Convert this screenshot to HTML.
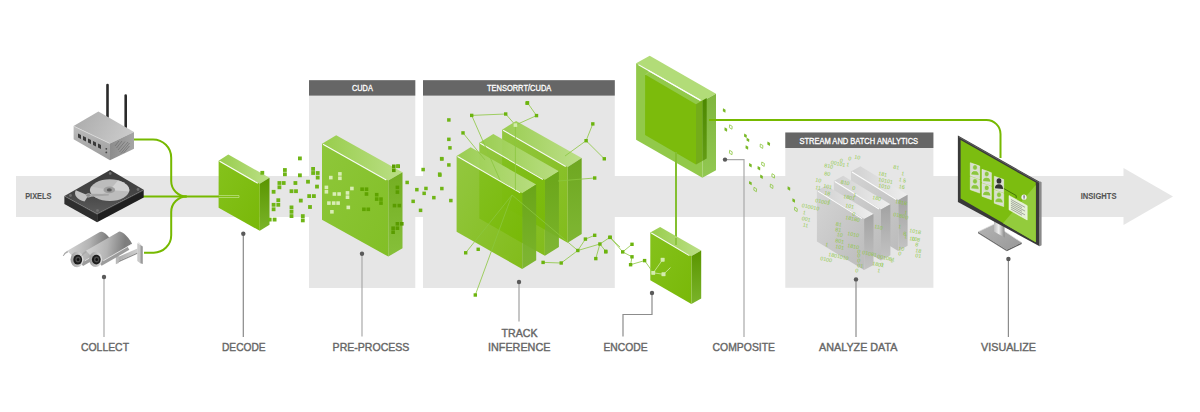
<!DOCTYPE html><html><head><meta charset="utf-8"><style>html,body{margin:0;padding:0;background:#fff;}svg{display:block;}</style></head><body><svg width="1200" height="412" viewBox="0 0 1200 412">
<defs>
<linearGradient id="gFront" x1="0" y1="0" x2="1" y2="1"><stop offset="0" stop-color="#85c21c"/><stop offset="1" stop-color="#79b808"/></linearGradient>
<linearGradient id="gTop" x1="0" y1="0" x2="1" y2="0"><stop offset="0" stop-color="#98cd4c"/><stop offset="1" stop-color="#bbdf86"/></linearGradient>
<linearGradient id="gSide" x1="0" y1="0" x2="0" y2="1"><stop offset="0" stop-color="#5a9500"/><stop offset="1" stop-color="#7ab42a"/></linearGradient>
<linearGradient id="gSide2" x1="0" y1="0" x2="0" y2="1"><stop offset="0" stop-color="#74ae22"/><stop offset="1" stop-color="#86c03a"/></linearGradient>
<linearGradient id="gFront2" x1="0" y1="0" x2="1" y2="1"><stop offset="0" stop-color="#8ec73a"/><stop offset="1" stop-color="#82bf26"/></linearGradient>
<linearGradient id="gFrontT" x1="0" y1="0" x2="1" y2="1"><stop offset="0" stop-color="#84c222" stop-opacity="0.88"/><stop offset="1" stop-color="#76b700" stop-opacity="0.92"/></linearGradient>
<linearGradient id="sFront" x1="0" y1="0" x2="1" y2="1"><stop offset="0" stop-color="#d4d4d4"/><stop offset="1" stop-color="#bcbcbc"/></linearGradient>
<linearGradient id="sTop" x1="0" y1="0" x2="1" y2="0"><stop offset="0" stop-color="#d0d0d0"/><stop offset="1" stop-color="#eeeeee"/></linearGradient>
<linearGradient id="sSide" x1="0" y1="0" x2="0" y2="1"><stop offset="0" stop-color="#a2a2a2"/><stop offset="1" stop-color="#c4c4c4"/></linearGradient>
<linearGradient id="rTop" x1="0" y1="0" x2="1" y2="0.3"><stop offset="0" stop-color="#a9a9a9"/><stop offset="1" stop-color="#c9c9c9"/></linearGradient>
<linearGradient id="rFront" x1="0" y1="0" x2="0" y2="1"><stop offset="0" stop-color="#bdbdbd"/><stop offset="1" stop-color="#9a9a9a"/></linearGradient>
<linearGradient id="rSide" x1="0" y1="0" x2="1" y2="0"><stop offset="0" stop-color="#8c8c8c"/><stop offset="1" stop-color="#a5a5a5"/></linearGradient>
<linearGradient id="hTop" x1="0" y1="0" x2="0" y2="1"><stop offset="0" stop-color="#3c3c3c"/><stop offset="0.5" stop-color="#444"/><stop offset="1" stop-color="#5c5c5c"/></linearGradient>
<linearGradient id="hPl" x1="0" y1="0" x2="1" y2="1"><stop offset="0" stop-color="#d0d0d0"/><stop offset="1" stop-color="#a8a8a8"/></linearGradient>
<linearGradient id="cBody" x1="0" y1="0" x2="0" y2="1"><stop offset="0" stop-color="#8a8a8a"/><stop offset="0.5" stop-color="#bdbdbd"/><stop offset="1" stop-color="#d6d6d6"/></linearGradient>
<linearGradient id="cHood" x1="0" y1="0" x2="1" y2="0.3"><stop offset="0" stop-color="#d4d4d4"/><stop offset="0.55" stop-color="#b4b4b4"/><stop offset="1" stop-color="#7e7e7e"/></linearGradient>
<linearGradient id="mBase" x1="0" y1="0" x2="1" y2="1"><stop offset="0" stop-color="#b4b4b4"/><stop offset="1" stop-color="#989898"/></linearGradient>
<linearGradient id="mNeck" x1="0" y1="0" x2="1" y2="0"><stop offset="0" stop-color="#bdbdbd"/><stop offset="0.45" stop-color="#eeeeee"/><stop offset="1" stop-color="#8a8a8a"/></linearGradient>
<linearGradient id="cFace" x1="0" y1="0" x2="1" y2="0"><stop offset="0" stop-color="#9a9a9a"/><stop offset="1" stop-color="#e0e0e0"/></linearGradient>
<linearGradient id="gCompSide" x1="0" y1="0" x2="0" y2="1"><stop offset="0" stop-color="#80b63e"/><stop offset="1" stop-color="#92c852"/></linearGradient>
<linearGradient id="gCompStrip" x1="0" y1="0" x2="0" y2="1"><stop offset="0" stop-color="#4c8800"/><stop offset="1" stop-color="#639c14"/></linearGradient>
<linearGradient id="gSide3" x1="0" y1="0" x2="0" y2="1"><stop offset="0" stop-color="#6aa51a"/><stop offset="1" stop-color="#7bb52c"/></linearGradient>
<linearGradient id="bArm" x1="0" y1="0" x2="1" y2="0"><stop offset="0" stop-color="#a8a8a8"/><stop offset="1" stop-color="#d0d0d0"/></linearGradient>
</defs>
<rect width="1200" height="412" fill="#fff"/>
<rect x="16" y="176" width="1108" height="41" fill="#e6e6e6"/>
<polygon points="1123.5,168 1173,196.5 1123.5,225" fill="#e6e6e6"/>
<rect x="309" y="80" width="106.3" height="208" fill="#e6e6e6"/>
<rect x="423" y="80" width="191.8" height="208" fill="#e6e6e6"/>
<rect x="785.3" y="132.5" width="148.1" height="155.3" fill="#e6e6e6"/>
<rect x="309" y="80.2" width="106.3" height="15.4" fill="#666666"/>
<rect x="423" y="80.2" width="191.8" height="15.4" fill="#666666"/>
<rect x="785.3" y="132.5" width="148.1" height="15.5" fill="#666666"/>
<text x="352.0" y="91.1" font-family="Liberation Sans, sans-serif" font-size="8.4" font-weight="normal" fill="#fff" stroke="#fff" stroke-width="0.3" textLength="20.8" lengthAdjust="spacingAndGlyphs">CUDA</text>
<text x="486.9" y="90.9" font-family="Liberation Sans, sans-serif" font-size="8.2" font-weight="normal" fill="#fff" stroke="#fff" stroke-width="0.3" textLength="64.4" lengthAdjust="spacingAndGlyphs">TENSORRT/CUDA</text>
<text x="799.4" y="143.7" font-family="Liberation Sans, sans-serif" font-size="8.7" font-weight="normal" fill="#fff" stroke="#fff" stroke-width="0.3" textLength="118.7" lengthAdjust="spacingAndGlyphs">STREAM AND BATCH ANALYTICS</text>
<text x="25.2" y="199.0" font-family="Liberation Sans, sans-serif" font-size="8.6" font-weight="bold" fill="#555555" stroke="#555555" stroke-width="0.1" textLength="26.3" lengthAdjust="spacingAndGlyphs">PIXELS</text>
<text x="1080.7" y="199.3" font-family="Liberation Sans, sans-serif" font-size="8.6" font-weight="bold" fill="#555555" stroke="#555555" stroke-width="0.1" textLength="35.8" lengthAdjust="spacingAndGlyphs">INSIGHTS</text>
<text x="81.0" y="350.7" font-family="Liberation Sans, sans-serif" font-size="11.6" fill="#666666" stroke="#666666" stroke-width="0.42" textLength="48.0" lengthAdjust="spacingAndGlyphs">COLLECT</text>
<text x="222.0" y="350.7" font-family="Liberation Sans, sans-serif" font-size="11.6" fill="#666666" stroke="#666666" stroke-width="0.42" textLength="43.6" lengthAdjust="spacingAndGlyphs">DECODE</text>
<text x="332.6" y="350.7" font-family="Liberation Sans, sans-serif" font-size="11.6" fill="#666666" stroke="#666666" stroke-width="0.42" textLength="76.8" lengthAdjust="spacingAndGlyphs">PRE-PROCESS</text>
<text x="501.5" y="337.0" font-family="Liberation Sans, sans-serif" font-size="11.6" fill="#666666" stroke="#666666" stroke-width="0.42" textLength="36.0" lengthAdjust="spacingAndGlyphs">TRACK</text>
<text x="488.0" y="351.0" font-family="Liberation Sans, sans-serif" font-size="11.6" fill="#666666" stroke="#666666" stroke-width="0.42" textLength="62.4" lengthAdjust="spacingAndGlyphs">INFERENCE</text>
<text x="603.5" y="350.7" font-family="Liberation Sans, sans-serif" font-size="11.6" fill="#666666" stroke="#666666" stroke-width="0.42" textLength="44.1" lengthAdjust="spacingAndGlyphs">ENCODE</text>
<text x="712.6" y="350.7" font-family="Liberation Sans, sans-serif" font-size="11.6" fill="#666666" stroke="#666666" stroke-width="0.42" textLength="62.4" lengthAdjust="spacingAndGlyphs">COMPOSITE</text>
<text x="819.1" y="350.7" font-family="Liberation Sans, sans-serif" font-size="11.6" fill="#666666" stroke="#666666" stroke-width="0.42" textLength="78.3" lengthAdjust="spacingAndGlyphs">ANALYZE DATA</text>
<text x="981.1" y="350.7" font-family="Liberation Sans, sans-serif" font-size="11.6" fill="#666666" stroke="#666666" stroke-width="0.42" textLength="54.9" lengthAdjust="spacingAndGlyphs">VISUALIZE</text>
<polyline points="104.0,277.0 104.0,337.0" fill="none" stroke="#a9a9a9" stroke-width="1.2"/><circle cx="104.0" cy="277.0" r="2.2" fill="#5a5a5a"/>
<polyline points="243.3,233.7 243.3,337.0" fill="none" stroke="#888" stroke-width="1.2"/><circle cx="243.3" cy="233.7" r="2.2" fill="#5a5a5a"/>
<polyline points="362.0,253.7 362.0,336.5" fill="none" stroke="#a9a9a9" stroke-width="1.2"/><circle cx="362.0" cy="253.7" r="2.2" fill="#5a5a5a"/>
<polyline points="519.0,282.0 519.0,321.4" fill="none" stroke="#a0a0a0" stroke-width="1.2"/><circle cx="519.0" cy="282.0" r="2.2" fill="#5a5a5a"/>
<polyline points="652.0,293.0 652.0,314.5 623.0,314.5 623.0,336.5" fill="none" stroke="#8c8c8c" stroke-width="1.2"/><circle cx="652.0" cy="293.0" r="2.2" fill="#5a5a5a"/>
<polyline points="725.0,159.6 744.0,159.6 744.0,337.0" fill="none" stroke="#a9a9a9" stroke-width="1.2"/><circle cx="725.0" cy="159.6" r="2.2" fill="#5a5a5a"/>
<polyline points="856.0,279.4 856.0,337.0" fill="none" stroke="#8c8c8c" stroke-width="1.2"/><circle cx="856.0" cy="279.4" r="2.2" fill="#5a5a5a"/>
<polyline points="1008.4,259.0 1008.4,337.0" fill="none" stroke="#8c8c8c" stroke-width="1.2"/><circle cx="1008.4" cy="259.0" r="2.2" fill="#5a5a5a"/>
<path d="M133.5,139.5 H153 A18.2,18.2 0 0 1 171.2,157.7 V181 A15.5,15.5 0 0 0 186.7,196.5" fill="none" stroke="#76b900" stroke-width="2"/>
<path d="M144,252.7 H153.7 A17.5,17.5 0 0 0 171.2,235.2 V212 A15.5,15.5 0 0 1 186.7,196.5" fill="none" stroke="#76b900" stroke-width="2"/>
<path d="M143,196.5 H220" fill="none" stroke="#76b900" stroke-width="2"/>
<path d="M709,120 H986.5 A14,14 0 0 1 1000.5,134 V158" fill="none" stroke="#76b900" stroke-width="2"/>
<g opacity="1.0"><polygon points="218.6,160.7 228.3,154.6 269.5,177.7 259.8,183.8" fill="url(#gTop)"/><polygon points="259.8,183.8 269.5,177.7 269.5,224.7 259.8,230.8" fill="url(#gSide)"/><polygon points="218.6,160.7 259.8,183.8 259.8,230.8 218.6,207.7" fill="url(#gFront)"/><line x1="219.6" y1="161.2" x2="257.8" y2="183.3" stroke="#fff" stroke-width="1.1" opacity="0.95"/></g>
<path d="M218.7,195.5 H239 V197.5 H218.7" fill="none" stroke="#b9de7c" stroke-width="0.8"/>
<g opacity="1.0"><polygon points="322.0,143.7 336.2,135.3 402.5,172.2 388.3,180.6" fill="url(#gTop)"/><polygon points="388.3,180.6 402.5,172.2 402.5,248.2 388.3,256.6" fill="url(#gSide2)"/><polygon points="322.0,143.7 388.3,180.6 388.3,256.6 322.0,219.7" fill="url(#gFront2)"/><line x1="323.0" y1="144.2" x2="386.3" y2="180.1" stroke="#fff" stroke-width="1.1" opacity="0.95"/></g>
<g opacity="1.0"><polygon points="636.1,63.3 649.7,55.7 716.0,93.7 702.4,101.3" fill="#b2dc78"/><polygon points="702.4,101.3 716.0,93.7 716.0,170.2 702.4,177.8" fill="url(#gCompSide)"/><polygon points="636.1,63.3 702.4,101.3 702.4,177.8 636.1,139.8" fill="#92c94a"/></g>
<polygon points="645.1,74.6 696,104.2 696,164.5 645.1,135" fill="#7cbb0c"/>
<polygon points="696,104.2 702.4,100.5 702.4,161 696,164.5" fill="#74ac1a"/>
<polygon points="702.4,100.5 706.7,98 706.7,158.5 702.4,161" fill="url(#gCompStrip)"/>
<line x1="645.3" y1="74.6" x2="651" y2="71.2" stroke="#a6d466" stroke-width="0.8"/>
<line x1="638.5" y1="64.8" x2="700.5" y2="100.3" stroke="#fff" stroke-width="1.1" opacity="0.9"/>
<path d="M709,120 H718" fill="none" stroke="#76b900" stroke-width="2"/>
<path d="M676,152 V242" fill="none" stroke="#84bf30" stroke-width="2"/>
<line x1="648" y1="70.2" x2="700.5" y2="100.6" stroke="#fff" stroke-width="1.1" opacity="0.95"/>
<g opacity="1.0"><polygon points="650.3,232.5 660.1,227.0 701.2,250.6 691.4,256.1" fill="url(#gTop)"/><polygon points="691.4,256.1 701.2,250.6 701.2,298.4 691.4,303.9" fill="url(#gSide)"/><polygon points="650.3,232.5 691.4,256.1 691.4,303.9 650.3,280.3" fill="url(#gFront)"/><line x1="651.3" y1="233.0" x2="689.4" y2="255.6" stroke="#fff" stroke-width="1.1" opacity="0.95"/></g>
<path d="M676,238 V245" fill="none" stroke="#8cc63f" stroke-width="2"/>
<g opacity="0.96"><polygon points="502.1,129.7 516.1,120.9 581.7,158.1 567.7,166.9" fill="url(#gTop)"/><polygon points="567.7,166.9 581.7,158.1 581.7,233.9 567.7,242.7" fill="url(#gSide3)"/><polygon points="502.1,129.7 567.7,166.9 567.7,242.7 502.1,205.5" fill="url(#gFrontT)"/><line x1="503.1" y1="130.2" x2="565.7" y2="166.4" stroke="#fff" stroke-width="1.1" opacity="0.95"/></g>
<g opacity="0.96"><polygon points="479.3,142.8 493.3,134.0 558.9,171.2 544.9,180.0" fill="url(#gTop)"/><polygon points="544.9,180.0 558.9,171.2 558.9,247.0 544.9,255.8" fill="url(#gSide3)"/><polygon points="479.3,142.8 544.9,180.0 544.9,255.8 479.3,218.6" fill="url(#gFrontT)"/><line x1="480.3" y1="143.3" x2="542.9" y2="179.5" stroke="#fff" stroke-width="1.1" opacity="0.95"/></g>
<g opacity="0.96"><polygon points="456.6,156.0 470.6,147.2 536.2,184.4 522.2,193.2" fill="url(#gTop)"/><polygon points="522.2,193.2 536.2,184.4 536.2,260.2 522.2,269.0" fill="url(#gSide3)"/><polygon points="456.6,156.0 522.2,193.2 522.2,269.0 456.6,231.8" fill="url(#gFrontT)"/><line x1="457.6" y1="156.5" x2="520.2" y2="192.7" stroke="#fff" stroke-width="1.1" opacity="0.95"/></g>
<g opacity="1.0"><polygon points="851.0,171.5 860.4,166.3 907.6,194.8 898.2,200.0" fill="url(#sTop)"/><polygon points="898.2,200.0 907.6,194.8 907.6,245.8 898.2,251.0" fill="url(#sSide)"/><polygon points="851.0,171.5 898.2,200.0 898.2,251.0 851.0,222.5" fill="url(#sFront)"/><line x1="852.0" y1="172.0" x2="896.2" y2="199.5" stroke="#fff" stroke-width="1.1" opacity="0.95"/></g>
<g opacity="1.0"><polygon points="833.8,181.0 843.2,175.8 890.4,204.3 881.0,209.5" fill="url(#sTop)"/><polygon points="881.0,209.5 890.4,204.3 890.4,255.3 881.0,260.5" fill="url(#sSide)"/><polygon points="833.8,181.0 881.0,209.5 881.0,260.5 833.8,232.0" fill="url(#sFront)"/><line x1="834.8" y1="181.5" x2="879.0" y2="209.0" stroke="#fff" stroke-width="1.1" opacity="0.95"/></g>
<g opacity="1.0"><polygon points="816.9,190.6 826.3,185.4 873.5,213.9 864.1,219.1" fill="url(#sTop)"/><polygon points="864.1,219.1 873.5,213.9 873.5,264.9 864.1,270.1" fill="url(#sSide)"/><polygon points="816.9,190.6 864.1,219.1 864.1,270.1 816.9,241.6" fill="url(#sFront)"/><line x1="817.9" y1="191.1" x2="862.1" y2="218.6" stroke="#fff" stroke-width="1.1" opacity="0.95"/></g>
<g>
<line x1="107.5" y1="85" x2="107.5" y2="117" stroke="#2a2a2a" stroke-width="2.6" stroke-linecap="round"/>
<line x1="125.7" y1="95.5" x2="125.7" y2="127" stroke="#2a2a2a" stroke-width="2.6" stroke-linecap="round"/>
<polygon points="73.6,126.1 98.4,111.5 134,131.9 110,143.6" fill="url(#rTop)"/>
<polygon points="73.6,126.1 110,143.6 110,160.3 73.6,139.2" fill="url(#rFront)"/>
<polygon points="110,143.6 134,131.9 134,148.7 110,160.3" fill="url(#rSide)"/>
<line x1="74.5" y1="126.6" x2="109.5" y2="143.3" stroke="#e0e0e0" stroke-width="0.7"/>
<g fill="#3a3a3a">
<polygon points="78,133.5 81,135 81,139 78,137.5"/>
<polygon points="83,136 86,137.5 86,141.5 83,140"/>
<polygon points="88,138.5 91,140 91,144 88,142.5"/>
<polygon points="93,141 96,142.5 96,146.5 93,145"/>
<polygon points="98,143.5 101,145 101,149 98,147.5"/>
</g>
<circle cx="106.3" cy="148.8" r="0.9" fill="#444"/><circle cx="106.3" cy="152.4" r="0.9" fill="#444"/>
<g stroke="#666" stroke-width="0.6">
<line x1="115" y1="146" x2="119" y2="141"/><line x1="116.5" y1="148" x2="122" y2="141"/><line x1="118" y1="150" x2="125" y2="141.5"/><line x1="119.5" y1="152" x2="128" y2="142"/><line x1="121" y1="153.5" x2="129.5" y2="143"/><line x1="123.5" y1="153" x2="129.5" y2="146"/>
</g>
</g>
<g>
<polygon points="64.4,195.9 97.1,213.8 97.1,222.3 64.4,203.9" fill="#2e2e2e"/>
<polygon points="97.1,213.8 143.7,189.8 143.7,197.5 97.1,222.3" fill="#1f1f1f"/>
<polygon points="64.4,195.9 110.2,170.1 143.7,189.8 97.1,213.8" fill="url(#hTop)"/>
<polyline points="64.8,196.3 97.1,214.2 143.3,190.3" fill="none" stroke="#8a8a8a" stroke-width="0.5"/>
<ellipse cx="109.8" cy="190.1" rx="19.5" ry="10.9" fill="#bcbcbc"/>
<path d="M109.8,190.1 L118,180.4 A19.5,10.9 0 0 1 129.2,191.5 Z" fill="#d2d2d2"/>
<path d="M109.8,190.1 L96,197.8 A19.5,10.9 0 0 1 91,186.5 Z" fill="#c6c6c6"/>
<path d="M88.4,195.4 L75.8,190.2 A14,9 0 0 0 84.5,201.6 Z" fill="#c2c2c2"/>
<ellipse cx="109.3" cy="189.9" rx="5.8" ry="3.4" fill="#9e9e9e"/>
<ellipse cx="109.3" cy="189.9" rx="2.5" ry="1.6" fill="#5a5a5a"/>
<polygon points="88.4,193.7 108.8,194.1 108.8,195.5 88.4,197.1" fill="#a6a6a6"/>
<ellipse cx="88.4" cy="195.4" rx="2.5" ry="1.8" fill="#8a8a8a" stroke="#d0d0d0" stroke-width="0.5"/>
<circle cx="70.5" cy="195.5" r="1.4" fill="#707070"/><circle cx="110.2" cy="173.5" r="1.4" fill="#707070"/>
<circle cx="138" cy="189.5" r="1.4" fill="#707070"/><circle cx="97.5" cy="210.5" r="1.4" fill="#707070"/>
</g>
<g>
<polygon points="117,257.4 137.5,248.6 137.5,252.6 117,261.6" fill="url(#bArm)"/>
<polygon points="117,261.6 137.5,252.6 137.5,253.8 117.5,262.8" fill="#8e8e8e"/>
<polygon points="115.8,255.8 118.8,254.6 118.8,263 115.8,264.2" fill="#b9b9b9"/>
<polygon points="137.3,243.2 140.3,244.8 140.3,263.2 137.3,261" fill="#c9c9c9"/>
<polygon points="140.3,244.8 142.8,246.5 142.8,264 140.3,263.2" fill="#9a9a9a"/>
<polygon points="137.3,243.2 138.8,242.2 142.8,246.5 140.3,244.8" fill="#e2e2e2"/>
</g>
<g>
<g transform="translate(77,259.5) rotate(-30)">
<path d="M0,-4 L34,-4 L34,8.6 L2,8.6 Z" fill="#9c9c9c"/>
<path d="M-4,-12.4 L33,-12.4 A6,16.5 0 0 1 39.5,4.6 L0,4.6 Z" fill="url(#cHood)"/>
<line x1="6" y1="5" x2="39" y2="5" stroke="#f2f2f2" stroke-width="0.7"/>
<path d="M-4,-12.4 Q-8,-12.6 -10.5,-10.2 L-9.8,-9.6 Q-7.5,-11 -4,-10.6 Z" fill="#aaa"/>
</g>
<ellipse cx="77" cy="259.5" rx="6.5" ry="7.7" fill="url(#cFace)"/>
<ellipse cx="77.7" cy="259.7" rx="4.4" ry="4.9" fill="#1c1c1c"/>
<ellipse cx="78" cy="259.5" rx="2.6" ry="3" fill="#4a4a4a"/>
<ellipse cx="78.1" cy="259.5" rx="1.3" ry="1.5" fill="#111"/>
</g>
<g>
<g transform="translate(95.6,259.4) rotate(-30)">
<path d="M0,-4 L34,-4 L34,8.6 L2,8.6 Z" fill="#9c9c9c"/>
<path d="M-4,-12.4 L33,-12.4 A6,16.5 0 0 1 39.5,4.6 L0,4.6 Z" fill="url(#cHood)"/>
<line x1="6" y1="5" x2="39" y2="5" stroke="#f2f2f2" stroke-width="0.7"/>
<path d="M-4,-12.4 Q-8,-12.6 -10.5,-10.2 L-9.8,-9.6 Q-7.5,-11 -4,-10.6 Z" fill="#aaa"/>
</g>
<ellipse cx="95.6" cy="259.4" rx="6.5" ry="7.7" fill="url(#cFace)"/>
<ellipse cx="96.3" cy="259.59999999999997" rx="4.4" ry="4.9" fill="#1c1c1c"/>
<ellipse cx="96.6" cy="259.4" rx="2.6" ry="3" fill="#4a4a4a"/>
<ellipse cx="96.69999999999999" cy="259.4" rx="1.3" ry="1.5" fill="#111"/>
</g>
<g><polygon points="978,231.8 994,224.2 1021.7,242.6 1006.8,249.8" fill="url(#mBase)"/><polyline points="978,231.8 994,224.2 1021.7,242.6" fill="none" stroke="#e0e0e0" stroke-width="0.7"/><polygon points="978,231.8 1006.8,249.8 1006.8,251.2 978,233.2" fill="#6e6e6e"/><polygon points="1006.8,249.8 1021.7,242.6 1021.7,244 1006.8,251.2" fill="#5e5e5e"/><polygon points="994,218 1004.5,224 1004.5,237.5 994,231.5" fill="url(#mNeck)"/><polygon points="957.9,135.6 1039.6,181.8 1039.6,246.3 957.9,202" fill="#393939"/><path d="M1039.6,181.8 Q1040.6,181.2 1041.6,182.6 L1041.6,245.2 L1039.6,246.3 Z" fill="#8a8a8a"/><polyline points="958.6,136.9 1039,182.5" fill="none" stroke="#7a7a7a" stroke-width="0.6"/><polygon points="960.6,140 1035.8,182.6 1035.8,242.2 960.6,198.5" fill="#7cbd10"/><polygon points="1035.8,185 1035.8,242.2 1003,223.2" fill="#93cb3c"/><polygon points="970.3,162.7 979.7,166.1 979.7,179.2 970.3,175.8" fill="#d9ddd2" stroke="#eef3e6" stroke-width="0.5"/><path d="M970.9,174.8 Q971.1,170.6 975.0,170.7 Q978.9,170.9 979.1,175.5 Z" fill="#8cc63f" stroke="#f2f2f2" stroke-width="0.5"/><ellipse cx="975.0" cy="167.4" rx="2.4" ry="2.7" fill="#8cc63f" stroke="#f2f2f2" stroke-width="0.5"/><polygon points="982.0,169.3 991.4,172.7 991.4,185.8 982.0,182.4" fill="#d9ddd2" stroke="#eef3e6" stroke-width="0.5"/><path d="M982.6,181.4 Q982.8,177.2 986.7,177.3 Q990.6,177.5 990.8,182.1 Z" fill="#8cc63f" stroke="#f2f2f2" stroke-width="0.5"/><ellipse cx="986.7" cy="174.0" rx="2.4" ry="2.7" fill="#8cc63f" stroke="#f2f2f2" stroke-width="0.5"/><polygon points="994.3,176.2 1003.7,179.6 1003.7,192.7 994.3,189.3" fill="#d9ddd2" stroke="#eef3e6" stroke-width="0.5"/><path d="M994.9,188.3 Q995.1,184.1 999.0,184.2 Q1002.9,184.4 1003.1,189.0 Z" fill="#333" stroke="none" stroke-width="0.5"/><ellipse cx="999.0" cy="180.9" rx="2.4" ry="2.7" fill="#333" stroke="none" stroke-width="0.5"/><polygon points="970.3,176.6 979.7,180.0 979.7,193.1 970.3,189.7" fill="#d9ddd2" stroke="#eef3e6" stroke-width="0.5"/><path d="M970.9,188.7 Q971.1,184.5 975.0,184.6 Q978.9,184.8 979.1,189.4 Z" fill="#8cc63f" stroke="#f2f2f2" stroke-width="0.5"/><ellipse cx="975.0" cy="181.3" rx="2.4" ry="2.7" fill="#8cc63f" stroke="#f2f2f2" stroke-width="0.5"/><polygon points="982.0,183.2 991.4,186.6 991.4,199.7 982.0,196.3" fill="#d9ddd2" stroke="#eef3e6" stroke-width="0.5"/><path d="M982.6,195.3 Q982.8,191.1 986.7,191.2 Q990.6,191.4 990.8,196.0 Z" fill="#8cc63f" stroke="#f2f2f2" stroke-width="0.5"/><ellipse cx="986.7" cy="187.9" rx="2.4" ry="2.7" fill="#8cc63f" stroke="#f2f2f2" stroke-width="0.5"/><polygon points="994.3,190.1 1003.7,193.5 1003.7,206.6 994.3,203.2" fill="#d9ddd2" stroke="#eef3e6" stroke-width="0.5"/><path d="M994.9,202.2 Q995.1,198.0 999.0,198.1 Q1002.9,198.3 1003.1,202.9 Z" fill="#8cc63f" stroke="#f2f2f2" stroke-width="0.5"/><ellipse cx="999.0" cy="194.8" rx="2.4" ry="2.7" fill="#8cc63f" stroke="#f2f2f2" stroke-width="0.5"/><polyline points="1003.8,188.5 1016.2,195.6 1016.2,198" fill="none" stroke="#2d5a00" stroke-width="0.7"/><polygon points="1009,195.5 1027.2,205.7 1027.2,220 1009,209.8" fill="#e6f0d8" stroke="#fff" stroke-width="0.5"/><line x1="1011" y1="199.5" x2="1025" y2="207.3" stroke="#777" stroke-width="0.6"/><line x1="1011" y1="201.4" x2="1022" y2="207.6" stroke="#777" stroke-width="0.6"/><line x1="1011" y1="203.3" x2="1025" y2="211.1" stroke="#777" stroke-width="0.6"/><line x1="1011" y1="205.2" x2="1022" y2="211.4" stroke="#777" stroke-width="0.6"/><line x1="1011" y1="207.1" x2="1025" y2="214.9" stroke="#777" stroke-width="0.6"/><line x1="1011" y1="209.0" x2="1022" y2="215.2" stroke="#777" stroke-width="0.6"/><circle cx="1024" cy="197.2" r="2.6" fill="#f2f2f2"/><rect x="1023.6" y="195.3" width="0.9" height="2.6" fill="#333"/><rect x="1023.6" y="198.4" width="0.9" height="0.8" fill="#333"/></g>
<rect x="260.4" y="170.9" width="3.8" height="3.8" fill="#6fb516" opacity="1"/><rect x="298.0" y="156.5" width="3.8" height="3.8" fill="#6fb516" opacity="1"/><rect x="283.0" y="168.1" width="3.8" height="3.8" fill="#6fb516" opacity="1"/><rect x="283.0" y="172.4" width="3.8" height="3.8" fill="#6fb516" opacity="1"/><rect x="298.0" y="173.4" width="3.8" height="3.8" fill="#6fb516" opacity="1"/><rect x="311.2" y="167.0" width="3.8" height="3.8" fill="#6fb516" opacity="1"/><rect x="311.2" y="171.1" width="3.8" height="3.8" fill="#6fb516" opacity="1"/><rect x="315.8" y="171.1" width="3.8" height="3.8" fill="#6fb516" opacity="1"/><rect x="315.8" y="175.7" width="3.8" height="3.8" fill="#6fb516" opacity="1"/><rect x="306.1" y="179.8" width="3.8" height="3.8" fill="#6fb516" opacity="1"/><rect x="293.5" y="181.1" width="3.8" height="3.8" fill="#6fb516" opacity="1"/><rect x="277.5" y="181.1" width="3.8" height="3.8" fill="#6fb516" opacity="1"/><rect x="281.8" y="181.1" width="3.8" height="3.8" fill="#6fb516" opacity="1"/><rect x="277.5" y="185.4" width="3.8" height="3.8" fill="#6fb516" opacity="1"/><rect x="315.1" y="184.7" width="3.8" height="3.8" fill="#6fb516" opacity="1"/><rect x="271.7" y="189.9" width="3.8" height="3.8" fill="#6fb516" opacity="1"/><rect x="289.6" y="189.3" width="3.8" height="3.8" fill="#6fb516" opacity="1"/><rect x="294.1" y="189.3" width="3.8" height="3.8" fill="#6fb516" opacity="1"/><rect x="307.3" y="194.2" width="3.8" height="3.8" fill="#6fb516" opacity="1"/><rect x="312.0" y="194.2" width="3.8" height="3.8" fill="#6fb516" opacity="1"/><rect x="276.4" y="198.3" width="3.8" height="3.8" fill="#6fb516" opacity="1"/><rect x="298.9" y="198.7" width="3.8" height="3.8" fill="#6fb516" opacity="1"/><rect x="271.7" y="202.9" width="3.8" height="3.8" fill="#6fb516" opacity="1"/><rect x="276.4" y="202.9" width="3.8" height="3.8" fill="#6fb516" opacity="1"/><rect x="289.6" y="205.5" width="3.8" height="3.8" fill="#6fb516" opacity="1"/><rect x="308.1" y="205.1" width="3.8" height="3.8" fill="#6fb516" opacity="1"/><rect x="271.7" y="207.4" width="3.8" height="3.8" fill="#6fb516" opacity="1"/><rect x="289.6" y="209.9" width="3.8" height="3.8" fill="#6fb516" opacity="1"/><rect x="289.6" y="214.2" width="3.8" height="3.8" fill="#6fb516" opacity="1"/><rect x="300.9" y="214.2" width="3.8" height="3.8" fill="#6fb516" opacity="1"/><rect x="300.9" y="218.5" width="3.8" height="3.8" fill="#6fb516" opacity="1"/><rect x="267.8" y="217.7" width="3.8" height="3.8" fill="#6fb516" opacity="1"/><rect x="272.7" y="217.7" width="3.8" height="3.8" fill="#6fb516" opacity="1"/>
<rect x="329.0" y="175.8" width="3.6" height="3.6" fill="#d9edb5" opacity="1"/><rect x="338.1" y="172.1" width="3.6" height="3.6" fill="#d9edb5" opacity="1"/><rect x="338.1" y="176.5" width="3.6" height="3.6" fill="#d9edb5" opacity="1"/><rect x="324.6" y="185.6" width="3.6" height="3.6" fill="#d9edb5" opacity="1"/><rect x="324.6" y="190.0" width="3.6" height="3.6" fill="#d9edb5" opacity="1"/><rect x="332.6" y="192.2" width="3.6" height="3.6" fill="#d9edb5" opacity="1"/><rect x="337.3" y="192.2" width="3.6" height="3.6" fill="#d9edb5" opacity="1"/><rect x="345.7" y="191.1" width="3.6" height="3.6" fill="#d9edb5" opacity="1"/><rect x="350.1" y="186.7" width="3.6" height="3.6" fill="#d9edb5" opacity="1"/><rect x="345.7" y="195.4" width="3.6" height="3.6" fill="#d9edb5" opacity="1"/><rect x="327.1" y="201.3" width="3.6" height="3.6" fill="#d9edb5" opacity="1"/><rect x="331.9" y="201.3" width="3.6" height="3.6" fill="#d9edb5" opacity="1"/><rect x="336.3" y="201.3" width="3.6" height="3.6" fill="#d9edb5" opacity="1"/><rect x="346.5" y="205.6" width="3.6" height="3.6" fill="#d9edb5" opacity="1"/><rect x="330.1" y="210.0" width="3.6" height="3.6" fill="#d9edb5" opacity="1"/>
<rect x="360.3" y="187.4" width="3.6" height="3.6" fill="#5fa300" opacity="1"/><rect x="364.7" y="187.4" width="3.6" height="3.6" fill="#5fa300" opacity="1"/><rect x="364.7" y="192.2" width="3.6" height="3.6" fill="#5fa300" opacity="1"/><rect x="374.9" y="192.9" width="3.6" height="3.6" fill="#5fa300" opacity="1"/><rect x="374.9" y="197.3" width="3.6" height="3.6" fill="#5fa300" opacity="1"/><rect x="379.2" y="197.3" width="3.6" height="3.6" fill="#5fa300" opacity="1"/><rect x="379.2" y="201.3" width="3.6" height="3.6" fill="#5fa300" opacity="1"/><rect x="362.1" y="207.5" width="3.6" height="3.6" fill="#5fa300" opacity="1"/><rect x="366.5" y="207.5" width="3.6" height="3.6" fill="#5fa300" opacity="1"/>
<rect x="392.0" y="164.5" width="3.6" height="3.6" fill="#5a9c00" opacity="1"/><rect x="396.4" y="164.5" width="3.6" height="3.6" fill="#5a9c00" opacity="1"/><rect x="392.0" y="168.5" width="3.6" height="3.6" fill="#5a9c00" opacity="1"/><rect x="395.6" y="185.6" width="3.6" height="3.6" fill="#5a9c00" opacity="1"/><rect x="395.6" y="190.3" width="3.6" height="3.6" fill="#5a9c00" opacity="1"/><rect x="392.7" y="203.8" width="3.6" height="3.6" fill="#5a9c00" opacity="1"/><rect x="397.5" y="203.8" width="3.6" height="3.6" fill="#5a9c00" opacity="1"/><rect x="395.6" y="222.0" width="3.6" height="3.6" fill="#5a9c00" opacity="1"/><rect x="400.0" y="222.0" width="3.6" height="3.6" fill="#5a9c00" opacity="1"/><rect x="391.3" y="226.4" width="3.6" height="3.6" fill="#5a9c00" opacity="1"/><rect x="395.6" y="226.4" width="3.6" height="3.6" fill="#5a9c00" opacity="1"/><rect x="391.3" y="230.4" width="3.6" height="3.6" fill="#5a9c00" opacity="1"/>
<rect x="421.4" y="167.8" width="3.5" height="3.5" fill="#6fb516" opacity="1"/><rect x="405.4" y="180.7" width="3.5" height="3.5" fill="#6fb516" opacity="1"/><rect x="415.1" y="187.9" width="3.5" height="3.5" fill="#6fb516" opacity="1"/><rect x="422.4" y="191.6" width="3.5" height="3.5" fill="#6fb516" opacity="1"/><rect x="411.4" y="199.6" width="3.5" height="3.5" fill="#6fb516" opacity="1"/><rect x="418.8" y="208.6" width="3.5" height="3.5" fill="#6fb516" opacity="1"/><rect x="432.1" y="195.9" width="3.5" height="3.5" fill="#6fb516" opacity="1"/><rect x="440.1" y="186.8" width="3.5" height="3.5" fill="#6fb516" opacity="1"/><rect x="438.1" y="173.4" width="3.5" height="3.5" fill="#6fb516" opacity="1"/><rect x="440.1" y="157.2" width="3.5" height="3.5" fill="#6fb516" opacity="1"/><rect x="447.1" y="163.2" width="3.5" height="3.5" fill="#6fb516" opacity="1"/><rect x="448.2" y="146.1" width="3.5" height="3.5" fill="#6fb516" opacity="1"/><rect x="449.1" y="198.8" width="3.5" height="3.5" fill="#6fb516" opacity="1"/><rect x="447.1" y="118.2" width="3.5" height="3.5" fill="#6fb516" opacity="1"/><rect x="447.1" y="137.6" width="3.5" height="3.5" fill="#6fb516" opacity="1"/><rect x="439.9" y="156.9" width="3.5" height="3.5" fill="#6fb516" opacity="1"/><rect x="437.9" y="172.4" width="3.5" height="3.5" fill="#6fb516" opacity="1"/><rect x="396.1" y="164.4" width="3.5" height="3.5" fill="#6fb516" opacity="1"/><rect x="424.2" y="186.7" width="3.5" height="3.5" fill="#6fb516" opacity="1"/>
<line x1="471.7" y1="115.4" x2="505.7" y2="114" stroke="#8cc63f" stroke-width="0.8"/><line x1="505.7" y1="114" x2="515.4" y2="125.1" stroke="#8cc63f" stroke-width="0.8"/><line x1="471.7" y1="115.4" x2="500" y2="180" stroke="#8cc63f" stroke-width="0.8"/><line x1="463" y1="132.9" x2="485" y2="160" stroke="#8cc63f" stroke-width="0.8"/><line x1="515.4" y1="125.1" x2="515.4" y2="190" stroke="#8cc63f" stroke-width="0.8"/><line x1="515.4" y1="125.1" x2="536.5" y2="115.6" stroke="#8cc63f" stroke-width="0.8"/><line x1="536.5" y1="115.6" x2="527.5" y2="102.8" stroke="#8cc63f" stroke-width="0.8"/><line x1="592.8" y1="123.9" x2="586.1" y2="140.7" stroke="#8cc63f" stroke-width="0.8"/><line x1="586.1" y1="140.7" x2="604.3" y2="158.8" stroke="#8cc63f" stroke-width="0.8"/><line x1="586.1" y1="140.7" x2="565" y2="156" stroke="#8cc63f" stroke-width="0.8"/><line x1="594.7" y1="178" x2="558" y2="181" stroke="#8cc63f" stroke-width="0.8"/><line x1="465.7" y1="252.8" x2="512" y2="195" stroke="#8cc63f" stroke-width="0.8"/><line x1="475.3" y1="295" x2="512" y2="195" stroke="#8cc63f" stroke-width="0.8"/><line x1="543.1" y1="262.4" x2="561.2" y2="263" stroke="#8cc63f" stroke-width="0.8"/><line x1="561.2" y1="263" x2="577.8" y2="250.5" stroke="#8cc63f" stroke-width="0.8"/><line x1="577.8" y1="250.5" x2="599.9" y2="244" stroke="#8cc63f" stroke-width="0.8"/><line x1="599.9" y1="244" x2="609.8" y2="237.4" stroke="#8cc63f" stroke-width="0.8"/><line x1="609.8" y1="237.4" x2="620" y2="247" stroke="#8cc63f" stroke-width="0.8"/><line x1="577.8" y1="250.5" x2="585.4" y2="239.1" stroke="#8cc63f" stroke-width="0.8"/><line x1="585.4" y1="239.1" x2="594.7" y2="235.3" stroke="#8cc63f" stroke-width="0.8"/><line x1="577.8" y1="250.5" x2="512" y2="195" stroke="#8cc63f" stroke-width="0.8"/><line x1="599.9" y1="244" x2="605.7" y2="251.3" stroke="#8cc63f" stroke-width="0.8"/><line x1="599.9" y1="244" x2="595.8" y2="258.6" stroke="#8cc63f" stroke-width="0.8"/><line x1="610.2" y1="237.3" x2="622.7" y2="251.9" stroke="#8cc63f" stroke-width="0.8"/><line x1="622.7" y1="251.9" x2="632" y2="244.3" stroke="#8cc63f" stroke-width="0.8"/><line x1="622.7" y1="251.9" x2="632" y2="256.8" stroke="#8cc63f" stroke-width="0.8"/><line x1="632" y1="256.8" x2="630.6" y2="264.7" stroke="#8cc63f" stroke-width="0.8"/><line x1="630.6" y1="264.7" x2="644.6" y2="260.6" stroke="#8cc63f" stroke-width="0.8"/><line x1="644.6" y1="260.6" x2="653.3" y2="272.8" stroke="#8cc63f" stroke-width="0.8"/><rect x="470.0" y="113.7" width="3.4" height="3.4" fill="#6cb40e" opacity="1"/><rect x="504.0" y="112.3" width="3.4" height="3.4" fill="#6cb40e" opacity="1"/><rect x="525.4" y="101.5" width="3.4" height="3.4" fill="#6cb40e" opacity="1"/><rect x="461.3" y="131.2" width="3.4" height="3.4" fill="#6cb40e" opacity="1"/><rect x="525.8" y="101.1" width="3.4" height="3.4" fill="#6cb40e" opacity="1"/><rect x="534.8" y="113.9" width="3.4" height="3.4" fill="#6cb40e" opacity="1"/><rect x="591.1" y="122.2" width="3.4" height="3.4" fill="#6cb40e" opacity="1"/><rect x="584.4" y="139.0" width="3.4" height="3.4" fill="#6cb40e" opacity="1"/><rect x="602.6" y="157.1" width="3.4" height="3.4" fill="#6cb40e" opacity="1"/><rect x="593.0" y="176.3" width="3.4" height="3.4" fill="#6cb40e" opacity="1"/><rect x="464.0" y="251.1" width="3.4" height="3.4" fill="#6cb40e" opacity="1"/><rect x="476.5" y="247.6" width="3.4" height="3.4" fill="#6cb40e" opacity="1"/><rect x="473.6" y="293.3" width="3.4" height="3.4" fill="#6cb40e" opacity="1"/><rect x="541.4" y="260.7" width="3.4" height="3.4" fill="#6cb40e" opacity="1"/><rect x="559.5" y="261.3" width="3.4" height="3.4" fill="#6cb40e" opacity="1"/><rect x="576.1" y="248.8" width="3.4" height="3.4" fill="#6cb40e" opacity="1"/><rect x="583.7" y="237.4" width="3.4" height="3.4" fill="#6cb40e" opacity="1"/><rect x="593.0" y="233.6" width="3.4" height="3.4" fill="#6cb40e" opacity="1"/><rect x="598.2" y="242.3" width="3.4" height="3.4" fill="#6cb40e" opacity="1"/><rect x="608.1" y="235.7" width="3.4" height="3.4" fill="#6cb40e" opacity="1"/><rect x="604.0" y="249.6" width="3.4" height="3.4" fill="#6cb40e" opacity="1"/><rect x="594.1" y="256.9" width="3.4" height="3.4" fill="#6cb40e" opacity="1"/><rect x="608.5" y="235.6" width="3.4" height="3.4" fill="#6cb40e" opacity="1"/><rect x="604.1" y="250.2" width="3.4" height="3.4" fill="#6cb40e" opacity="1"/><rect x="621.0" y="250.2" width="3.4" height="3.4" fill="#6cb40e" opacity="1"/><rect x="630.3" y="242.6" width="3.4" height="3.4" fill="#6cb40e" opacity="1"/><rect x="630.3" y="255.1" width="3.4" height="3.4" fill="#6cb40e" opacity="1"/><rect x="628.9" y="263.0" width="3.4" height="3.4" fill="#6cb40e" opacity="1"/><rect x="642.9" y="258.9" width="3.4" height="3.4" fill="#6cb40e" opacity="1"/><rect x="513.6" y="123.3" width="3.6" height="3.6" fill="#d4ebae" opacity="1"/><rect x="660.8" y="257.9" width="3.6" height="3.6" fill="#d4ebae" opacity="1"/><rect x="651.5" y="271.0" width="3.6" height="3.6" fill="#d4ebae" opacity="1"/><rect x="661.7" y="272.5" width="3.6" height="3.6" fill="#d4ebae" opacity="1"/>
<line x1="653.3" y1="272.8" x2="663.5" y2="274.3" stroke="#cfe8a6" stroke-width="0.8"/><line x1="653.3" y1="272.8" x2="662.6" y2="259.7" stroke="#cfe8a6" stroke-width="0.8"/><line x1="663.5" y1="274.3" x2="670.5" y2="267.5" stroke="#cfe8a6" stroke-width="0.8"/>
<rect x="660.8" y="257.9" width="3.6" height="3.6" fill="#d4ebae" opacity="1"/><rect x="651.5" y="271.0" width="3.6" height="3.6" fill="#d4ebae" opacity="1"/><rect x="661.7" y="272.5" width="3.6" height="3.6" fill="#d4ebae" opacity="1"/>
<polygon points="723.0,108.3 725.6,109.8 725.4,112.7 722.8,111.2" fill="#7ab928"/><polygon points="724.6,127.3 727.2,128.8 727.0,131.7 724.4,130.2" fill="#7ab928"/><polygon points="744.2,133.6 746.8,135.1 746.6,138.0 744.0,136.5" fill="#7ab928"/><polygon points="746.7,137.7 749.3,139.2 749.1,142.1 746.5,140.6" fill="#7ab928"/><polygon points="745.7,145.3 748.3,146.8 748.1,149.7 745.5,148.2" fill="#7ab928"/><polygon points="767.5,141.5 770.1,143.0 769.9,145.9 767.3,144.4" fill="#7ab928"/><polygon points="749.2,163.0 751.8,164.5 751.6,167.4 749.0,165.9" fill="#7ab928"/><polygon points="757.7,166.1 760.3,167.6 760.1,170.5 757.5,169.0" fill="#7ab928"/><polygon points="760.3,174.6 762.9,176.1 762.7,179.0 760.1,177.5" fill="#7ab928"/><polygon points="749.2,180.9 751.8,182.4 751.6,185.3 749.0,183.8" fill="#7ab928"/><polygon points="787.7,186.3 790.3,187.8 790.1,190.7 787.5,189.2" fill="#7ab928"/><polygon points="792.5,198.3 795.1,199.8 794.9,202.7 792.3,201.2" fill="#7ab928"/><polygon points="729.6,124.8 732.2,126.3 732.0,129.2 729.4,127.7" fill="none" stroke="#8cc63f" stroke-width="0.8"/><polygon points="760.3,144.0 762.9,145.5 762.7,148.4 760.1,146.9" fill="none" stroke="#8cc63f" stroke-width="0.8"/><polygon points="729.6,150.3 732.2,151.8 732.0,154.7 729.4,153.2" fill="none" stroke="#8cc63f" stroke-width="0.8"/><polygon points="761.8,162.0 764.4,163.5 764.2,166.4 761.6,164.9" fill="none" stroke="#8cc63f" stroke-width="0.8"/><polygon points="772.0,173.7 774.6,175.2 774.4,178.1 771.8,176.6" fill="none" stroke="#8cc63f" stroke-width="0.8"/><polygon points="754.0,187.3 756.6,188.8 756.4,191.7 753.8,190.2" fill="none" stroke="#8cc63f" stroke-width="0.8"/><polygon points="770.4,184.1 773.0,185.6 772.8,188.5 770.2,187.0" fill="none" stroke="#8cc63f" stroke-width="0.8"/><polygon points="794.7,207.2 797.3,208.7 797.1,211.6 794.5,210.1" fill="none" stroke="#8cc63f" stroke-width="0.8"/>
<g font-family="Liberation Sans, sans-serif" font-size="5.3" fill="#8cc63f"><text x="824" y="167" transform="rotate(12 824 167)">810</text><text x="830.5" y="164" transform="rotate(12 830.5 164)">00101</text><text x="839.5" y="162" transform="rotate(12 839.5 162)">0</text><text x="846" y="166" transform="rotate(12 846 166)">1</text><text x="848" y="160" transform="rotate(12 848 160)">0</text><text x="854" y="158.5" transform="rotate(12 854 158.5)">10</text><text x="824" y="175" transform="rotate(12 824 175)">80</text><text x="815" y="181.5" transform="rotate(12 815 181.5)">10</text><text x="823" y="187.5" transform="rotate(12 823 187.5)">101</text><text x="815" y="189" transform="rotate(12 815 189)">11</text><text x="840.5" y="183.5" transform="rotate(12 840.5 183.5)">810</text><text x="852" y="189.5" transform="rotate(12 852 189.5)">0</text><text x="824" y="194.5" transform="rotate(12 824 194.5)">18</text><text x="815" y="202" transform="rotate(12 815 202)">01001</text><text x="827.5" y="203" transform="rotate(12 827.5 203)">1</text><text x="843" y="198" transform="rotate(12 843 198)">1801</text><text x="845" y="207" transform="rotate(12 845 207)">101</text><text x="853" y="196.5" transform="rotate(12 853 196.5)">1</text><text x="801.5" y="207" transform="rotate(12 801.5 207)">010010</text><text x="802.5" y="214" transform="rotate(12 802.5 214)">1</text><text x="801.5" y="220" transform="rotate(12 801.5 220)">001</text><text x="802.5" y="226.5" transform="rotate(12 802.5 226.5)">11</text><text x="852" y="215.5" transform="rotate(12 852 215.5)">0</text><text x="845" y="219" transform="rotate(12 845 219)">18180</text><text x="835.5" y="225.5" transform="rotate(12 835.5 225.5)">81</text><text x="893" y="168.5" transform="rotate(12 893 168.5)">81</text><text x="901" y="175" transform="rotate(12 901 175)">1</text><text x="898.5" y="181" transform="rotate(12 898.5 181)">1 5</text><text x="898.5" y="188" transform="rotate(12 898.5 188)">16</text><text x="878" y="175" transform="rotate(12 878 175)">181</text><text x="878" y="181" transform="rotate(12 878 181)">10101</text><text x="878" y="187" transform="rotate(12 878 187)">1010</text><text x="872" y="199" transform="rotate(12 872 199)">180</text><text x="895" y="203" transform="rotate(12 895 203)">1818</text><text x="893" y="216" transform="rotate(12 893 216)">0180</text><text x="905" y="219" transform="rotate(12 905 219)">0</text><text x="835" y="231" transform="rotate(12 835 231)">81</text><text x="836.5" y="236" transform="rotate(12 836.5 236)">10</text><text x="835" y="242" transform="rotate(12 835 242)">801</text><text x="835" y="248" transform="rotate(12 835 248)">101</text><text x="847" y="235" transform="rotate(12 847 235)">1010</text><text x="847" y="247" transform="rotate(12 847 247)">1810</text><text x="825" y="246" transform="rotate(12 825 246)">1</text><text x="820" y="260" transform="rotate(12 820 260)">0100</text><text x="828" y="256" transform="rotate(12 828 256)">1801010</text><text x="857" y="253" transform="rotate(12 857 253)">0</text><text x="857" y="257" transform="rotate(12 857 257)">0</text><text x="857" y="262" transform="rotate(12 857 262)">0</text><text x="855" y="272" transform="rotate(12 855 272)">0</text><text x="857" y="267" transform="rotate(12 857 267)">01</text><text x="862" y="254" transform="rotate(12 862 254)">01081</text><text x="877" y="258" transform="rotate(12 877 258)">001081</text><text x="880" y="266" transform="rotate(12 880 266)">0</text><text x="890" y="262" transform="rotate(12 890 262)">1</text><text x="872" y="265" transform="rotate(12 872 265)">1801</text><text x="877" y="272" transform="rotate(12 877 272)">1</text><text x="898" y="228" transform="rotate(12 898 228)">1</text><text x="903" y="235" transform="rotate(12 903 235)">8</text><text x="909" y="232" transform="rotate(12 909 232)">1018</text><text x="909" y="240" transform="rotate(12 909 240)">10</text><text x="898" y="250" transform="rotate(12 898 250)">10</text><text x="898" y="255" transform="rotate(12 898 255)">0</text><text x="911" y="240" transform="rotate(12 911 240)">108</text><text x="915" y="246" transform="rotate(12 915 246)">8</text><text x="915" y="252" transform="rotate(12 915 252)">18</text><text x="915" y="257" transform="rotate(12 915 257)">01</text><text x="904" y="238" transform="rotate(12 904 238)">1</text><text x="874" y="228" transform="rotate(12 874 228)">110</text><text x="904" y="214" transform="rotate(12 904 214)">1</text></g>
</svg></body></html>
